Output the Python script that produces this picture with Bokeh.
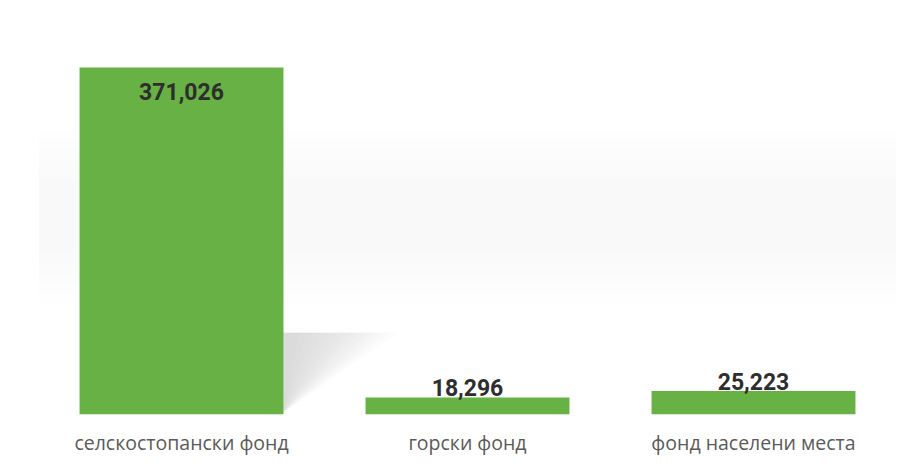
from bokeh.plotting import figure
from bokeh.models import ColumnDataSource, BoxAnnotation, FixedTicker, Range1d
from bokeh.core.properties import value
from bokeh.embed import file_html
from bokeh.resources import INLINE

categories = ["селскостопански фонд", "горски фонд", "фонд населени места"]
values = [371026, 18296, 25223]
labels = ["371,026", "18,296", "25,223"]

xs = [i + 0.5 for i in range(len(categories))]
bar_w = 0.713
ymax = 371026 * 396 / 347

inside = [v > ymax * 0.3 for v in values]
src_in = ColumnDataSource(dict(x=[x for x, i in zip(xs, inside) if i],
                               y=[v for v, i in zip(values, inside) if i],
                               t=[l for l, i in zip(labels, inside) if i]))
src_out = ColumnDataSource(dict(x=[x for x, i in zip(xs, inside) if not i],
                                y=[v for v, i in zip(values, inside) if not i],
                                t=[l for l, i in zip(labels, inside) if not i]))

p = figure(x_range=Range1d(0, len(categories)), y_range=Range1d(0, ymax),
           frame_width=858, frame_height=396,
           min_border_left=38, min_border_right=8, min_border_top=18, min_border_bottom=44,
           output_backend="svg", toolbar_location=None, background_fill_color="white",
           border_fill_color="white", outline_line_color=None)

# faint background band (scan shading)
for k in range(6):
    lo = ymax * (0.28 + 0.025 * k)
    hi = ymax * (0.72 - 0.025 * k)
    p.add_layout(BoxAnnotation(bottom=lo, top=hi, fill_color="#9a9a9a", fill_alpha=0.012,
                               line_color=None, level="underlay"))

# soft drop shadow to the right of the tallest bar
edge = xs[0] + bar_w / 2
top_s = values[0] * 0.236
n = 14
for k in range(n):
    reach = 0.40 * (1 - k / (n + 1))
    p.patch([edge, edge + reach, edge], [top_s, top_s, values[0] * 0.006],
            fill_color="#b0b0bc", fill_alpha=0.045, line_color=None)

p.vbar(x=xs, top=values, width=bar_w, color="#67b145", line_color=None)

p.text(x="x", y="y", text="t", source=src_in, text_align="center", text_baseline="top",
       y_offset=15, text_font=value("Roboto"), text_font_style="bold",
       text_font_size="23px", text_color="#2e2e2e")
p.text(x="x", y="y", text="t", source=src_out, text_align="center", text_baseline="bottom",
       y_offset=-1, text_font=value("Roboto"), text_font_style="bold",
       text_font_size="23px", text_color="#2e2e2e")

p.yaxis.visible = False
p.xgrid.visible = False
p.ygrid.visible = False
p.xaxis.ticker = FixedTicker(ticks=xs)
p.xaxis.major_label_overrides = {x: c for x, c in zip(xs, categories)}
p.xaxis.axis_line_color = None
p.xaxis.major_tick_line_color = None
p.xaxis.minor_tick_line_color = None
p.xaxis.major_label_standoff = 8
p.xaxis.major_label_text_font = "Open Sans"
p.xaxis.major_label_text_font_size = "19.5px"
p.xaxis.major_label_text_color = "#5a5a5a"

open("out.html", "w").write(file_html(p, INLINE))
